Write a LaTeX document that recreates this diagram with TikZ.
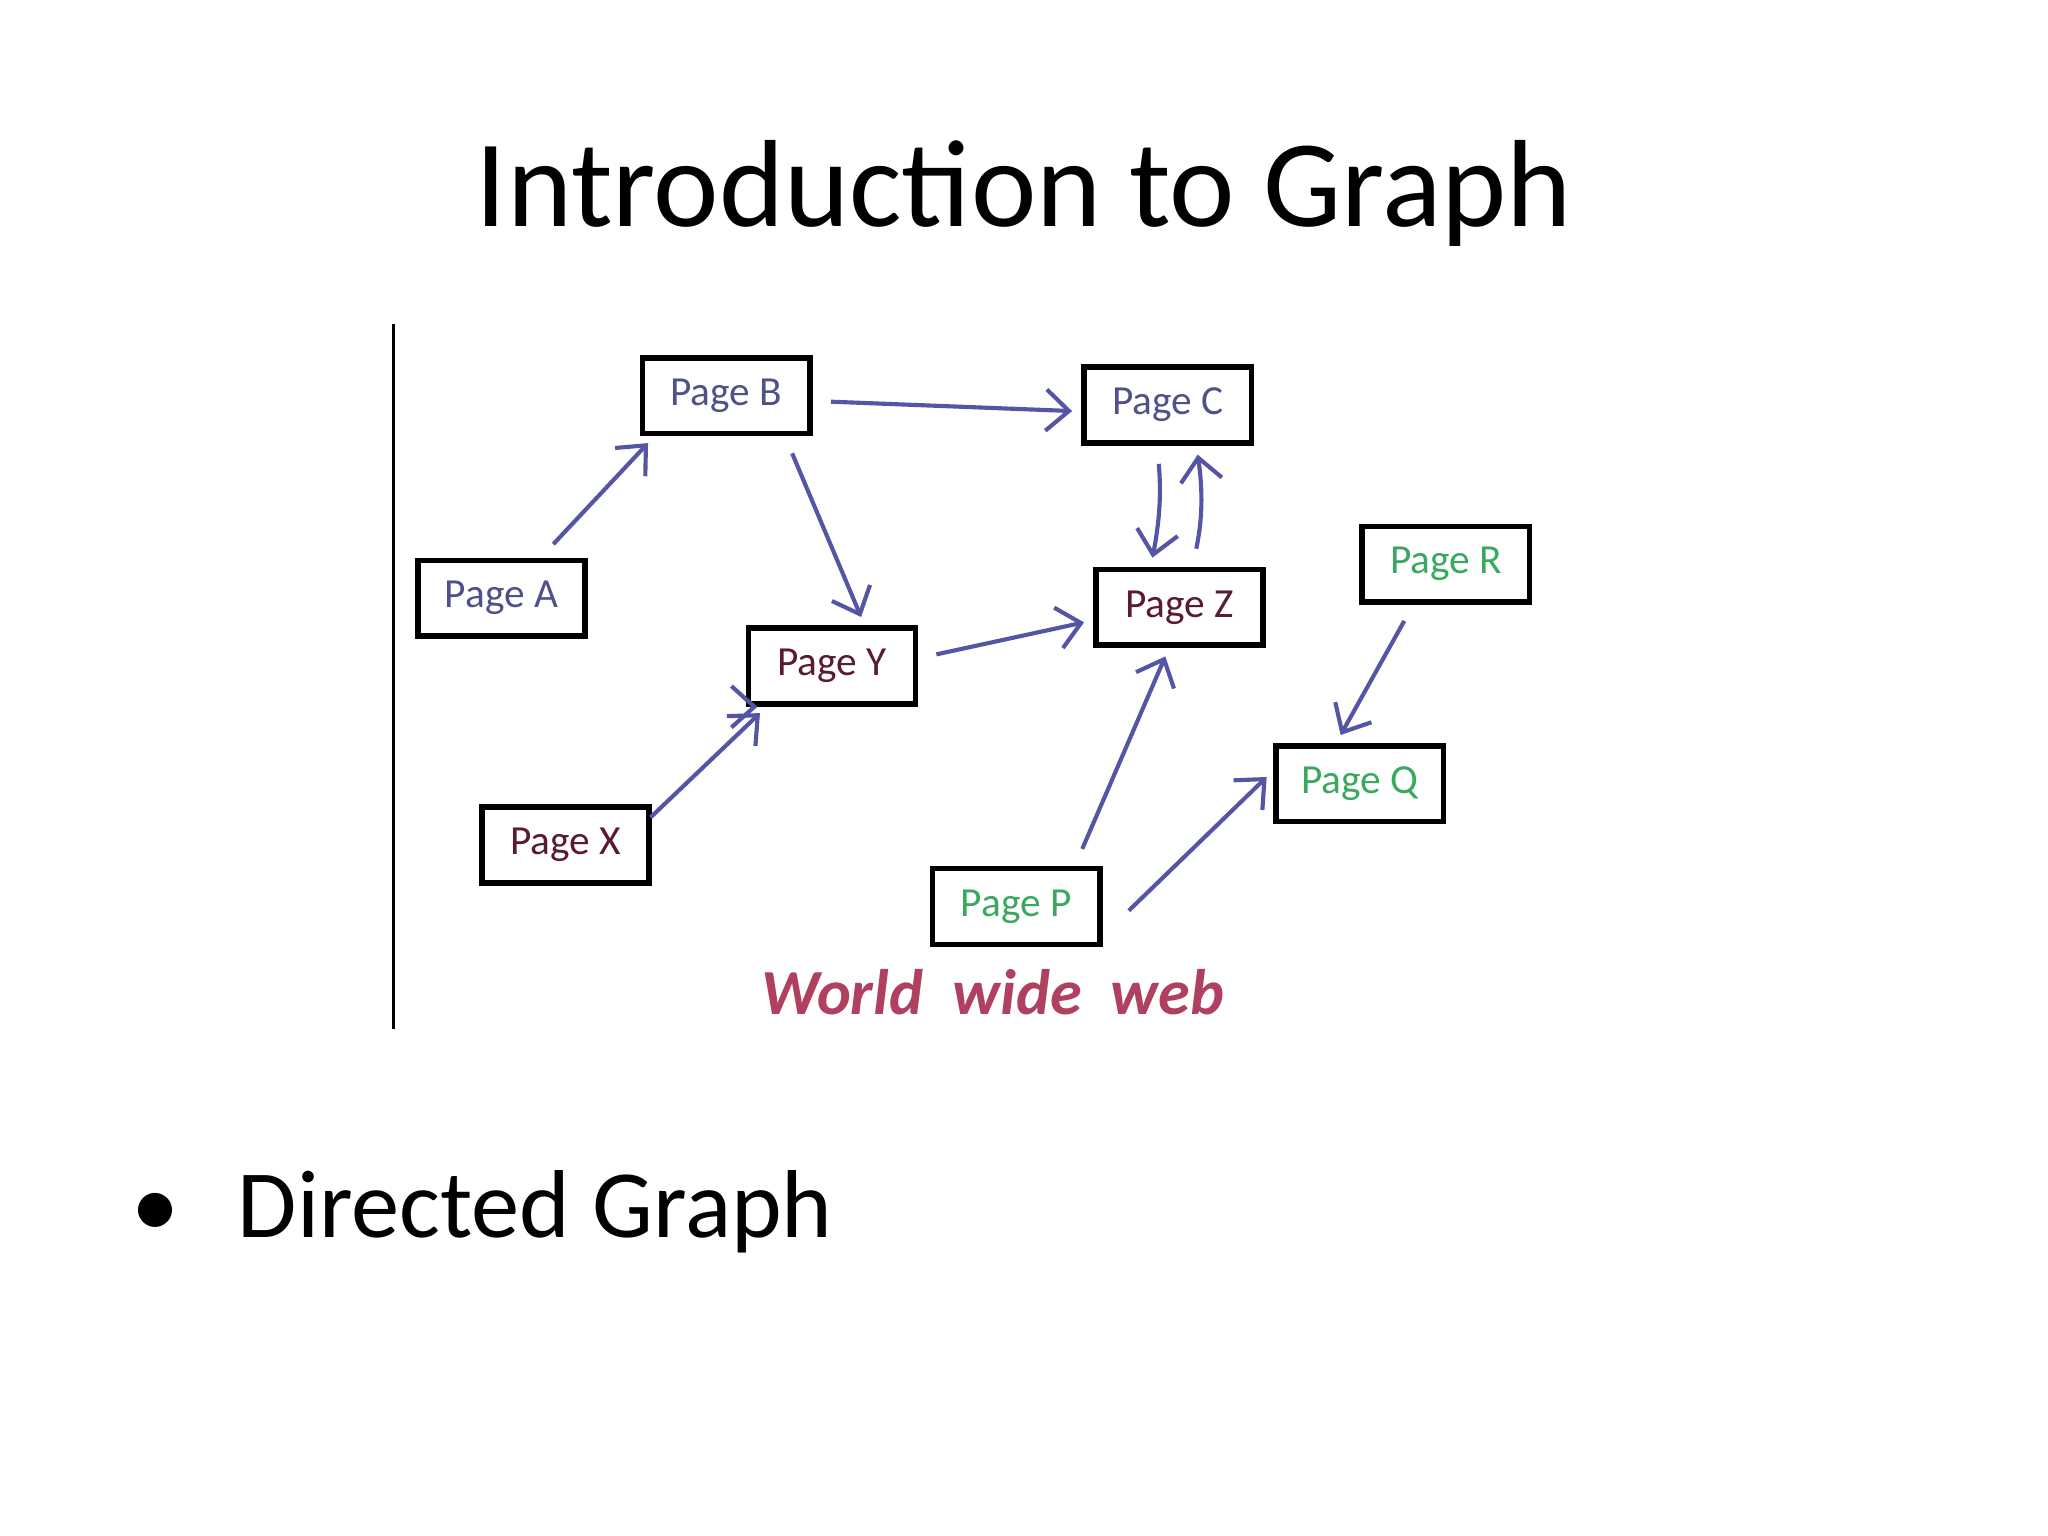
\documentclass[tikz,border=0pt]{standalone}
\usepackage{fontspec}
\setmainfont{Carlito}
\usetikzlibrary{arrows.meta}
\definecolor{arrc}{HTML}{5555A5}
\definecolor{tb}{HTML}{50508A}
\definecolor{tm}{HTML}{5A1A30}
\definecolor{tg}{HTML}{3AA860}
\definecolor{www}{HTML}{B04060}
\begin{document}
\begin{tikzpicture}[x=0.01cm,y=-0.01cm,
  pg/.style={draw=black,line width=1.2pt,minimum width=1.28cm,minimum height=0.58cm,inner sep=0pt,font=\fontsize{9}{11}\selectfont},
  arr/.style={draw=arrc,line width=0.9pt,-{Straight Barb[length=5pt,width=9pt]},shorten >=2pt,shorten <=4pt}]
\useasboundingbox (0,0) rectangle (1568,1176);
\node (title) at (784,148) {\fontsize{27}{32}\selectfont Introduction to Graph};
\draw[line width=0.7pt] (301,248) -- (301,788);
\node[pg,text=tb] (B) at (556,303) {Page B};
\node[pg,text=tb] (C) at (894,310) {Page C};
\node[pg,text=tb] (A) at (384,458) {Page A};
\node[pg,text=tm] (Z) at (903,465) {Page Z};
\node[pg,text=tg] (R) at (1107,432) {Page R};
\node[pg,text=tm] (Y) at (637,510) {Page Y};
\node[pg,text=tg] (Q) at (1041,600) {Page Q};
\node[pg,text=tm] (X) at (433,647) {Page X};
\node[pg,text=tg] (P) at (778,694) {Page P};
\draw[arr] ([xshift=0.3cm]A.north) -- ([xshift=-0.55cm]B.south);
\draw[arr] ([yshift=-0.04cm]B.east) -- ([yshift=-0.05cm]C.west);
\draw[arr] ([xshift=0.45cm]B.south) -- ([xshift=0.25cm]Y.north);
\draw[arr] ([yshift=0.06cm]Y.east) -- ([yshift=-0.1cm]Z.west);
\draw[arr] ([xshift=-0.75cm]Y.south) -- ([xshift=-0.5cm]Y.south);
\draw[arr,shorten <=0pt] ([xshift=0.65cm,yshift=-0.1cm]X.north) -- ([xshift=-0.5cm]Y.south);
\draw[arr] ([xshift=-0.08cm]C.south) to[bend left=8] ([xshift=-0.22cm]Z.north);
\draw[arr] ([xshift=0.1cm]Z.north) to[bend right=10] ([xshift=0.22cm]C.south);
\draw[arr] ([xshift=0.45cm]P.north) -- ([xshift=-0.08cm]Z.south);
\draw[arr] ([xshift=0.1cm,yshift=-0.13cm]P.east) -- ([yshift=0.1cm]Q.west);
\draw[arr] ([xshift=-0.25cm]R.south) -- ([xshift=-0.18cm]Q.north);
\node[text=www,font=\fontsize{14}{18}\selectfont\bfseries\itshape] (w) at (760,760) {World \ wide \ web};
\node[anchor=west] (bul) at (88,928) {\fontsize{21}{25}\selectfont •\hspace{0.45cm}Directed Graph};
\end{tikzpicture}
\end{document}
